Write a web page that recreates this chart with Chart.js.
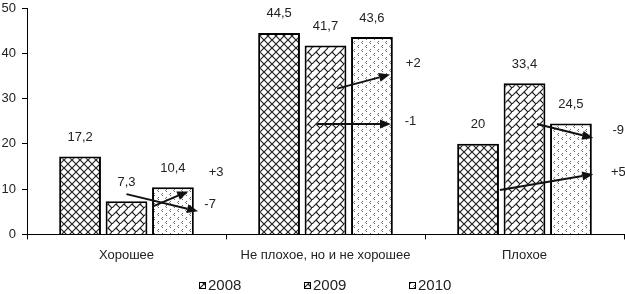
<!DOCTYPE html>
<html>
<head>
<meta charset="utf-8">
<script src="https://cdn.jsdelivr.net/npm/chart.js@4/dist/chart.umd.min.js"></script>
<style>
  html, body { margin: 0; padding: 0; background: #fff; }
  canvas { display: block; }
</style>
</head>
<body>
<canvas id="grafico" width="625" height="294"></canvas>
<script>
// данные
const categories = ['Хорошее', 'Не плохое, но и не хорошее', 'Плохое'];
const years = ['2008', '2009', '2010'];
const v2008 = [17.2, 44.5, 20];
const v2009 = [7.3, 41.7, 33.4];
const v2010 = [10.4, 43.6, 24.5];
const yTicks = [0, 10, 20, 30, 40, 50];

// стрелки изменений: категория, начало [позиция в столбцах, значение], конец, подпись
const changeText = ['+3', '-7', '+2', '-1', '-9', '+5'];
const changeCat = [0, 0, 1, 1, 2, 2];
const changeFrom = [[0.57, 6.2], [0, 8.9], [0.25, 32.2], [-0.18, 24.4], [0.27, 24.4], [-0.53, 9.8]];
const changeTo = [[1.33, 9.5], [1.54, 5.1], [1.39, 35.3], [1.41, 24.4], [1.48, 21.3], [1.48, 13.3]];
const changeLabelAt = [[1.93, 13.6], [1.8, 6.7], [1.89, 37.8], [1.83, 24.9], [2.02, 22.9], [2.02, 13.6]];

const FONT = 'Arial, "Liberation Sans", sans-serif';
const canvas = document.getElementById('grafico');
const ctx = canvas.getContext('2d');

function tile(draw) {
  const c = document.createElement('canvas');
  c.width = 8; c.height = 8;
  const t = c.getContext('2d');
  t.fillStyle = '#fff';
  t.fillRect(0, 0, 8, 8);
  draw(t);
  return ctx.createPattern(c, 'repeat');
}

// 2008 - сетка ромбов
const pat2008 = tile(t => {
  t.strokeStyle = '#222';
  t.lineWidth = 1.2;
  t.beginPath();
  t.moveTo(0, 0); t.lineTo(8, 8);
  t.moveTo(8, 0); t.lineTo(0, 8);
  t.stroke();
});
// 2009 - косая кладка
const pat2009 = tile(t => {
  t.strokeStyle = '#222';
  t.lineWidth = 1.2;
  t.beginPath();
  t.moveTo(-1, 9); t.lineTo(9, -1);
  t.moveTo(4, 4); t.lineTo(9, 9);
  t.stroke();
});
// 2010 - редкие галочки
const pat2010 = tile(t => {
  t.strokeStyle = '#666';
  t.lineWidth = 1;
  t.beginPath();
  t.moveTo(3, 1); t.lineTo(1.5, 2.5); t.lineTo(3, 4);
  t.moveTo(7, 5); t.lineTo(5.5, 6.5); t.lineTo(7, 8);
  t.stroke();
});
const patterns = [pat2008, pat2009, pat2010];
const series = [v2008, v2009, v2010];

const fmt = v => String(v).replace('.', ',');

const valueLabels = {
  id: 'valueLabels',
  afterDatasetsDraw(chart) {
    const c = chart.ctx;
    c.save();
    c.font = '13px ' + FONT;
    c.fillStyle = '#222';
    c.textAlign = 'center';
    c.textBaseline = 'middle';
    chart.data.datasets.forEach((ds, i) => {
      chart.getDatasetMeta(i).data.forEach((el, j) => {
        c.fillText(fmt(ds.data[j]), el.x, el.y - 19);
      });
    });
    c.restore();
  }
};

const changeArrows = {
  id: 'changeArrows',
  afterDatasetsDraw(chart) {
    const c = chart.ctx;
    const ys = chart.scales.y;
    const m0 = chart.getDatasetMeta(0), m1 = chart.getDatasetMeta(1);
    c.save();
    changeText.forEach((txt, i) => {
      const k = changeCat[i];
      const cx = m1.data[k].x;
      const slot = m1.data[k].x - m0.data[k].x;
      const x1 = cx + changeFrom[i][0] * slot, y1 = ys.getPixelForValue(changeFrom[i][1]);
      const x2 = cx + changeTo[i][0] * slot, y2 = ys.getPixelForValue(changeTo[i][1]);
      const a = Math.atan2(y2 - y1, x2 - x1);
      const hl = 11, hw = 4.5;
      const bx = x2 - hl * Math.cos(a), by = y2 - hl * Math.sin(a);
      c.strokeStyle = '#111';
      c.fillStyle = '#111';
      c.lineWidth = 2;
      c.beginPath();
      c.moveTo(x1, y1); c.lineTo(bx, by);
      c.stroke();
      c.beginPath();
      c.moveTo(x2, y2);
      c.lineTo(bx + hw * Math.sin(a), by - hw * Math.cos(a));
      c.lineTo(bx - hw * Math.sin(a), by + hw * Math.cos(a));
      c.closePath();
      c.fill();
      c.font = '13px ' + FONT;
      c.fillStyle = '#222';
      c.textAlign = 'center';
      c.textBaseline = 'middle';
      c.fillText(txt, cx + changeLabelAt[i][0] * slot, ys.getPixelForValue(changeLabelAt[i][1]));
    });
    c.restore();
  }
};

const bottomLegend = {
  id: 'bottomLegend',
  afterDraw(chart) {
    const c = chart.ctx;
    const area = chart.chartArea;
    const mid = (area.left + area.right) / 2;
    const pitch = 105;
    const yc = 286;
    c.save();
    c.font = '15px ' + FONT;
    c.textBaseline = 'middle';
    c.textAlign = 'left';
    chart.data.datasets.forEach((ds, i) => {
      const tw = c.measureText(ds.label).width;
      const w = 7 + 2 + tw;
      const x0 = Math.round(mid + (i - 1) * pitch - w / 2);
      c.fillStyle = ds.backgroundColor;
      c.fillRect(x0, yc - 4, 7, 7);
      c.strokeStyle = '#000';
      c.lineWidth = 1;
      c.strokeRect(x0 + 0.5, yc - 3.5, 6, 6);
      c.fillStyle = '#222';
      c.fillText(ds.label, x0 + 9, yc);
    });
    c.restore();
  }
};

const myChart = new Chart(ctx, {
  type: 'bar',
  data: {
    labels: categories,
    datasets: years.map((y, i) => ({
      label: y,
      data: series[i],
      backgroundColor: patterns[i],
      borderColor: '#000',
      borderWidth: 2,
      categoryPercentage: 0.7,
      barPercentage: 0.9
    }))
  },
  options: {
    responsive: false,
    animation: false,
    devicePixelRatio: 1,
    layout: { padding: { left: 0, right: 1, top: 8, bottom: 23 } },
    plugins: {
      legend: { display: false },
      tooltip: { enabled: false }
    },
    scales: {
      x: {
        grid: { drawOnChartArea: false, drawTicks: true, tickLength: 5, color: '#000', offset: true },
        border: { color: '#000', width: 1 },
        ticks: { color: '#222', font: { size: 13, family: FONT }, padding: 8, maxRotation: 0, autoSkip: false }
      },
      y: {
        min: yTicks[0],
        max: yTicks[yTicks.length - 1],
        afterBuildTicks: s => { s.ticks = yTicks.map(v => ({ value: v })); },
        afterFit: s => { s.width = 27; s.paddingTop = 0; s.paddingBottom = 0; },
        grid: { drawOnChartArea: false, drawTicks: true, tickLength: 5, color: '#000' },
        border: { color: '#000', width: 1 },
        ticks: { color: '#222', font: { size: 13, family: FONT }, padding: 6 }
      }
    }
  },
  plugins: [valueLabels, changeArrows, bottomLegend]
});
</script>
</body>
</html>
